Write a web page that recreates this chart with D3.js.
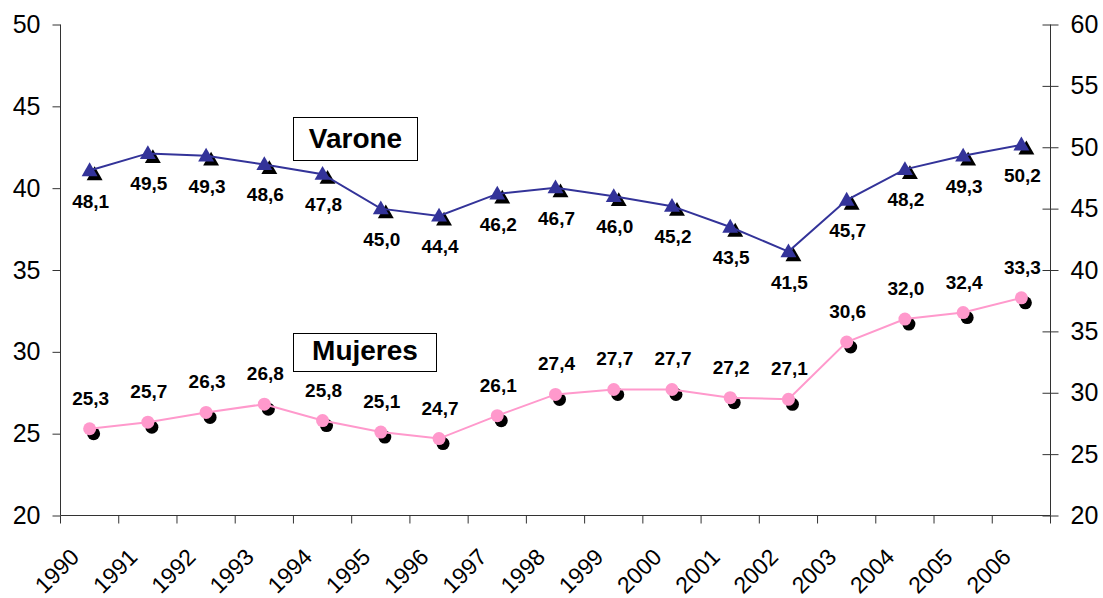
<!DOCTYPE html>
<html>
<head>
<meta charset="utf-8">
<script src="https://cdn.jsdelivr.net/npm/d3@7"></script>
<style>
  body { margin: 0; background: #fff; }
  text { font-family: "Liberation Sans", Arial, sans-serif; }
</style>
</head>
<body>
<script>
let years = ["1990","1991","1992","1993","1994","1995","1996","1997","1998","1999","2000","2001","2002","2003","2004","2005","2006"];
let varones = [48.1,49.5,49.3,48.6,47.8,45.0,44.4,46.2,46.7,46.0,45.2,43.5,41.5,45.7,48.2,49.3,50.2];
let mujeres = [25.3,25.7,26.3,26.8,25.8,25.1,24.7,26.1,27.4,27.7,27.7,27.2,27.1,30.6,32.0,32.4,33.3];
let leftTicks = [20,25,30,35,40,45,50];
let rightTicks = [20,25,30,35,40,45,50,55,60];

let width = 1103;
let height = 598;
let plotLeft = 60.5, plotRight = 1050.5, plotTop = 24.5, plotBottom = 515.5;

let svg = d3.select("body")
  .append("svg")
  .attr("width", width)
  .attr("height", height);

let xScale = d3.scaleBand()
  .domain(years)
  .range([plotLeft, plotRight]);

let yLeft = d3.scaleLinear().domain([20, 50]).range([plotBottom, plotTop]);
let yRight = d3.scaleLinear().domain([20, 60]).range([plotBottom, plotTop]);

let cx = (d, i) => xScale(years[i]) + xScale.bandwidth() / 2;
let fmt = v => v.toFixed(1).replace(".", ",");

// left axis
let gy = svg.append("g")
  .attr("transform", "translate(" + plotLeft + ",0)")
  .call(d3.axisLeft(yLeft).tickValues(leftTicks).tickSize(8).tickPadding(12));

// right axis with crossing ticks
let gr = svg.append("g")
  .attr("transform", "translate(" + plotRight + ",0)")
  .call(d3.axisRight(yRight).tickValues(rightTicks).tickSize(8).tickPadding(12));
gr.selectAll(".tick line").attr("x1", -8);

// x axis, ticks at band boundaries
let gx = svg.append("g")
  .attr("transform", "translate(0," + plotBottom + ")");
gx.append("line").attr("x1", plotLeft).attr("x2", plotRight).attr("stroke", "#333");
gx.selectAll(".tk")
  .data(years.concat(["end"]))
  .join("line")
  .attr("class", "tk")
  .attr("x1", (d, i) => plotLeft + i * xScale.bandwidth())
  .attr("x2", (d, i) => plotLeft + i * xScale.bandwidth())
  .attr("y1", 0).attr("y2", 8)
  .attr("stroke", "#333");
gx.selectAll(".yl")
  .data(years)
  .join("text")
  .attr("class", "yl")
  .attr("text-anchor", "end")
  .attr("font-size", 23)
  .attr("transform", (d, i) => "translate(" + (cx(d, i) - 9) + ",43) rotate(-45)")
  .text(d => d);

[gy, gr].forEach(g => {
  g.select(".domain").attr("stroke", "#333");
  g.selectAll(".tick line").attr("stroke", "#333");
  g.selectAll(".tick text").attr("font-size", 25).attr("fill", "#000")
    .style("font-family", "'Liberation Sans', Arial, sans-serif");
});
gy.select(".domain").attr("d", "M0," + plotTop + "V" + plotBottom);
gr.select(".domain").attr("d", "M0," + plotTop + "V" + plotBottom);

// Varones series (right axis)
let tri = d3.symbol().type(d3.symbolTriangle).size(110);
svg.append("g").selectAll("path")
  .data(varones)
  .join("path")
  .attr("d", tri)
  .attr("transform", (d, i) => "translate(" + (cx(d, i) + 5) + "," + (yRight(d) + 5) + ")")
  .attr("fill", "#000");
svg.append("path")
  .datum(varones)
  .attr("fill", "none")
  .attr("stroke", "#333399")
  .attr("stroke-width", 2)
  .attr("d", d3.line().x(cx).y(d => yRight(d)));
svg.append("g").selectAll("path")
  .data(varones)
  .join("path")
  .attr("d", tri)
  .attr("transform", (d, i) => "translate(" + cx(d, i) + "," + (yRight(d) + 1) + ")")
  .attr("fill", "#333399");
svg.append("g").selectAll("text")
  .data(varones)
  .join("text")
  .attr("x", (d, i) => cx(d, i) + 1)
  .attr("y", d => yRight(d) + 37)
  .attr("text-anchor", "middle")
  .attr("font-size", 19)
  .attr("font-weight", "bold")
  .text(fmt);

// Mujeres series (left axis)
svg.append("g").selectAll("circle")
  .data(mujeres)
  .join("circle")
  .attr("cx", (d, i) => cx(d, i) + 4)
  .attr("cy", d => yLeft(d) + 5)
  .attr("r", 6.5)
  .attr("fill", "#000");
svg.append("path")
  .datum(mujeres)
  .attr("fill", "none")
  .attr("stroke", "#FF99CC")
  .attr("stroke-width", 2)
  .attr("d", d3.line().x(cx).y(d => yLeft(d)));
svg.append("g").selectAll("circle")
  .data(mujeres)
  .join("circle")
  .attr("cx", cx)
  .attr("cy", d => yLeft(d))
  .attr("r", 6.5)
  .attr("fill", "#FF99CC");
svg.append("g").selectAll("text")
  .data(mujeres)
  .join("text")
  .attr("x", (d, i) => cx(d, i) + 1)
  .attr("y", d => yLeft(d) - 24)
  .attr("text-anchor", "middle")
  .attr("font-size", 19)
  .attr("font-weight", "bold")
  .text(fmt);

// series name boxes
let boxes = [
  { name: "Varone", x: 293.5, y: 117.5, w: 124, h: 43, base: 148 },
  { name: "Mujeres", x: 293.5, y: 333.5, w: 143, h: 38, base: 360 }
];
boxes.forEach(b => {
  svg.append("rect")
    .attr("x", b.x).attr("y", b.y)
    .attr("width", b.w).attr("height", b.h)
    .attr("fill", "#fff").attr("stroke", "#000").attr("stroke-width", 1);
  svg.append("text")
    .attr("x", b.x + b.w / 2)
    .attr("y", b.base)
    .attr("text-anchor", "middle")
    .attr("font-size", 28)
    .attr("font-weight", "bold")
    .text(b.name);
});
</script>
</body>
</html>
